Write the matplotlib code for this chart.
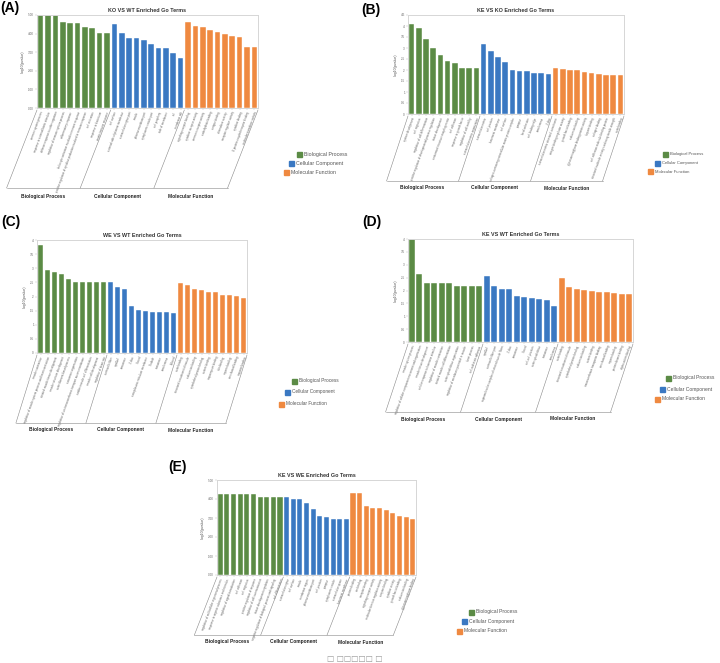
import matplotlib
matplotlib.use('Agg')
import matplotlib.pyplot as plt
from matplotlib.lines import Line2D
from matplotlib.patches import Rectangle
import numpy as np

plt.rcParams['font.family'] = ['Liberation Sans', 'DejaVu Sans']

W, H = 720, 663

groups = ['Biological Process', 'Cellular Component', 'Molecular Function']
group_colors = ['#5b8b45', '#3a78c2', '#ef8940']

# values: -log10(pvalue), 10 BP + 10 CC + 10 MF per panel
ko_wt_bp = [5.0, 5.0, 5.0, 4.64, 4.55, 4.55, 4.38, 4.29, 4.05, 4.02]
ko_wt_cc = [4.5, 4.05, 3.79, 3.79, 3.64, 3.43, 3.23, 3.2, 2.95, 2.68]
ko_wt_mf = [4.64, 4.41, 4.34, 4.21, 4.11, 3.96, 3.88, 3.84, 3.3, 3.3]

ke_ko_bp = [4.09, 3.92, 3.39, 3.0, 2.67, 2.42, 2.33, 2.09, 2.09, 2.09]
ke_ko_cc = [3.2, 2.86, 2.59, 2.36, 1.98, 1.97, 1.95, 1.88, 1.88, 1.8]
ke_ko_mf = [2.09, 2.03, 1.98, 1.98, 1.92, 1.88, 1.82, 1.77, 1.77, 1.77]

we_wt_bp = [3.81, 2.93, 2.88, 2.8, 2.61, 2.5, 2.5, 2.5, 2.5, 2.5]
we_wt_cc = [2.52, 2.33, 2.25, 1.67, 1.51, 1.5, 1.46, 1.46, 1.44, 1.42]
we_wt_mf = [2.48, 2.4, 2.26, 2.23, 2.17, 2.17, 2.07, 2.07, 2.02, 1.93]

ke_wt_bp = [4.0, 2.65, 2.31, 2.31, 2.31, 2.31, 2.18, 2.18, 2.18, 2.17]
ke_wt_cc = [2.55, 2.17, 2.07, 2.07, 1.8, 1.74, 1.69, 1.67, 1.63, 1.39]
ke_wt_mf = [2.48, 2.13, 2.07, 2.03, 2.0, 1.96, 1.95, 1.9, 1.88, 1.86]

ke_we_bp = [4.25, 4.25, 4.25, 4.25, 4.25, 4.25, 4.1, 4.1, 4.1, 4.1]
ke_we_cc = [4.1, 3.98, 3.98, 3.79, 3.47, 3.1, 3.05, 2.93, 2.93, 2.93]
ke_we_mf = [4.32, 4.32, 3.63, 3.51, 3.51, 3.4, 3.26, 3.1, 3.07, 2.95]

# GO term names (too small to read in the source figure)
terms_a = ['immune system process', 'response to external biotic stimulus', 'defense response to other organism',
           'regulation of immune system process', 'inflammatory response', 'leukocyte activation involved in immune response',
           'positive regulation of cytokine production involved in immune response', 'cell activation',
           'response to bacterium', 'innate immune response',
           'cell surface', 'external side of plasma membrane', 'extracellular region part', 'vesicle',
           'plasma membrane part', 'cytoplasmic vesicle part', 'cell periphery', 'side of membrane', 'cell',
           'membrane raft',
           'signaling receptor binding', 'cytokine receptor activity', 'immune receptor activity',
           'carbohydrate binding', 'antigen binding', 'chemokine activity', 'receptor regulator activity',
           'cytokine binding', 'G protein-coupled receptor binding', 'molecular transducer activity']
terms_b = ['system development', 'cell migration', 'regulation of cell differentiation',
           'positive regulation of developmental process regulation', 'tissue development',
           'anatomical structure morphogenesis', 'cell adhesion', 'response to growth factor',
           'regulation of cell motility', 'extracellular matrix organization',
           'extracellular matrix', 'cell junction', 'basement membrane', 'cell surface',
           'collagen-containing extracellular matrix protein complex', 'synapse', 'focal adhesion',
           'cell leading edge', 'sarcolemma', 'Z disc',
           'extracellular matrix structural constituent', 'integrin binding regulator activity',
           'growth factor binding', 'calcium ion binding', 'glycosaminoglycan binding protein activity',
           'heparin binding', 'collagen binding', 'cell adhesion molecule binding protein',
           'structural molecule activity conferring tensile strength', 'actin binding']
terms_c = ['muscle contraction', 'regulation of muscle system process and heart contraction',
           'striated muscle tissue development', 'muscle structure development', 'actin filament-based process',
           'sarcomere organization', 'regulation of ion transmembrane transport across membrane',
           'cardiac muscle cell differentiation', 'muscle cell development', 'regulation of heart rate',
           'contractile fiber', 'myofibril', 'sarcomere', 'Z disc', 'I band',
           'sarcoplasmic reticulum membrane', 'T-tubule', 'costamere', 'sarcolemma', 'A band',
           'actin binding', 'structural constituent of muscle', 'calcium ion binding',
           'cytoskeletal protein binding', 'actinin binding', 'tropomyosin binding', 'titin binding',
           'myosin binding', 'ion channel binding', 'troponin binding']
terms_d = ['muscle system process', 'regulation of cellular component movement and organization',
           'muscle tissue development', 'cellular response to hormone stimulus',
           'regulation of muscle contraction', 'striated muscle cell differentiation',
           'actin cytoskeleton organization', 'regulation of membrane potential in muscle',
           'heart process', 'cell-substrate adhesion',
           'myofibril', 'contractile fiber part', 'supramolecular complex of striated muscle fibers',
           'Z disc', 'sarcomere', 'I band', 'cell-cell junction', 'actin cytoskeleton', 'costamere',
           'sarcolemma',
           'actin binding', 'structural constituent of muscle', 'cytoskeletal protein binding',
           'calcium ion binding', 'actinin binding', 'transmembrane transporter binding',
           'ion channel binding', 'myosin binding', 'protein kinase binding', 'alpha-actinin binding']
terms_e = ['regulation of multicellular organismal process', 'response to organic substance and stimulus',
           'regulation of signal transduction', 'cell adhesion', 'cell migration', 'positive regulation of response',
           'regulation of cell communication', 'tissue development regulation',
           'negative regulation of biological process and signaling', 'cell differentiation',
           'extracellular region', 'cell surface', 'vesicle', 'membrane region', 'plasma membrane part',
           'cell junction', 'synapse', 'cytoplasmic vesicle', 'extracellular space', 'basement membrane',
           'protein binding', 'ion binding', 'receptor binding', 'signaling receptor activity',
           'molecular function regulator activity', 'enzyme binding', 'cytokine activity',
           'growth factor binding', 'calcium ion binding', 'glycosaminoglycan binding']


def fx(x):
    return x / W


def fy(y):
    return 1 - y / H


def panel(fig, letter, letter_xy, title, rect, bp, cc, mf, terms, yticks, yfmt,
          slant, para_y, label_y, leg_x, leg_y, leg_fs):
    x_l, x_r, y_t, y_b = rect
    ax = fig.add_axes([fx(x_l), fy(y_b), fx(x_r - x_l), (y_b - y_t) / H])
    vals = list(bp) + list(cc) + list(mf)
    cols = [group_colors[0]] * len(bp) + [group_colors[1]] * len(cc) + [group_colors[2]] * len(mf)
    xs = np.arange(len(vals))
    ax.bar(xs, vals, width=0.76, color=cols, edgecolor='white', linewidth=0.3)
    ax.set_xlim(-0.5, len(vals) - 0.5)
    ax.set_ylim(yticks[0], yticks[-1])
    ax.set_yticks(yticks)
    ax.set_yticklabels([yfmt % t for t in yticks], fontsize=2.2, color='#666666')
    ax.set_xticks(xs)
    ax.set_xticklabels(terms, rotation=70, ha='right', va='top', rotation_mode='anchor',
                       fontsize=2.0, color='#555555')
    ax.tick_params(length=1.2, width=0.3, pad=1, colors='#bbbbbb', labelcolor='#666666')
    ax.set_ylabel('-log10(pvalue)', fontsize=2.5, labelpad=2, color='#555555')
    for s in ax.spines.values():
        s.set_color('#d6d6d6')
        s.set_linewidth(0.7)
    ax.set_title(title, fontsize=3.9, fontweight='bold', color='#333333', pad=2.5)

    fig.text(fx(letter_xy[0]), fy(letter_xy[1]), letter, fontsize=10, fontweight='bold',
             ha='left', va='top')

    # slanted frame under the tick labels
    n = len(vals)
    top_y = y_b + 2
    bnds = [0, len(bp), len(bp) + len(cc), n]
    tops = [x_l + b / n * (x_r - x_l) for b in bnds]
    dx = slant * (para_y - top_y)
    bots = [t - dx for t in tops]
    for t, b in zip(tops, bots):
        fig.add_artist(Line2D([fx(t), fx(b)], [fy(top_y), fy(para_y)], color='#888888', lw=0.4))
    fig.add_artist(Line2D([fx(bots[0]), fx(bots[-1])], [fy(para_y), fy(para_y)], color='#888888', lw=0.4))
    for i, g in enumerate(groups):
        cx = (bots[i] + bots[i + 1]) / 2
        fig.text(fx(cx), fy(label_y), g, fontsize=3.5, fontweight='bold', ha='center', va='center',
                 color='#222222')

    # legend
    for i, g in enumerate(groups):
        fig.add_artist(Rectangle((fx(leg_x[i] - 2.5), fy(leg_y[i] + 2.5)), 5 / W, 5 / H,
                                 color=group_colors[i], transform=fig.transFigure))
        fig.text(fx(leg_x[i] + 5), fy(leg_y[i]), g, fontsize=leg_fs, ha='left', va='center',
                 color='#555555')


fig = plt.figure(figsize=(7.2, 6.63), dpi=100)

panel(fig, '(A)', (0, 1), 'KO VS WT Enriched Go Terms', (37, 258, 15, 108),
      ko_wt_bp, ko_wt_cc, ko_wt_mf, terms_a, np.arange(0, 5.01, 1), '%.2f',
      0.39, 188, 196, [299, 291, 286], [154, 163, 173], 3.8)
panel(fig, '(B)', (361, 3), 'KE VS KO Enriched Go Terms', (408, 624, 15, 114),
      ke_ko_bp, ke_ko_cc, ke_ko_mf, terms_b, np.arange(0, 4.51, 0.5), '%g',
      0.33, 181, 188, [665, 657, 650], [154, 163, 172], 3.0)
panel(fig, '(C)', (1, 215), 'WE VS WT Enriched Go Terms', (37, 247, 240, 353),
      we_wt_bp, we_wt_cc, we_wt_mf, terms_c, np.arange(0, 4.01, 0.5), '%g',
      0.31, 423, 430, [294, 287, 281], [381, 392, 404], 3.4)
panel(fig, '(D)', (362, 215), 'KE VS WT Enriched Go Terms', (408, 633, 239, 342),
      ke_wt_bp, ke_wt_cc, ke_wt_mf, terms_d, np.arange(0, 4.01, 0.5), '%g',
      0.33, 412, 419, [668, 662, 657], [378, 389, 399], 3.6)
panel(fig, '(E)', (168, 460), 'KE VS WE Enriched Go Terms', (217, 416, 480, 575),
      ke_we_bp, ke_we_cc, ke_we_mf, terms_e, np.arange(0, 5.01, 1), '%.2f',
      0.39, 635, 642, [471, 464, 459], [612, 621, 631], 3.6)

fig.text(fx(355), fy(659), '\u25a1 \u25a1\u25a1\u25a1\u25a1\u25a1 \u25a1', fontsize=5.5, ha='center',
         va='center', color='#999999', family=['DejaVu Sans'])

fig.savefig('out.png', dpi=100)
